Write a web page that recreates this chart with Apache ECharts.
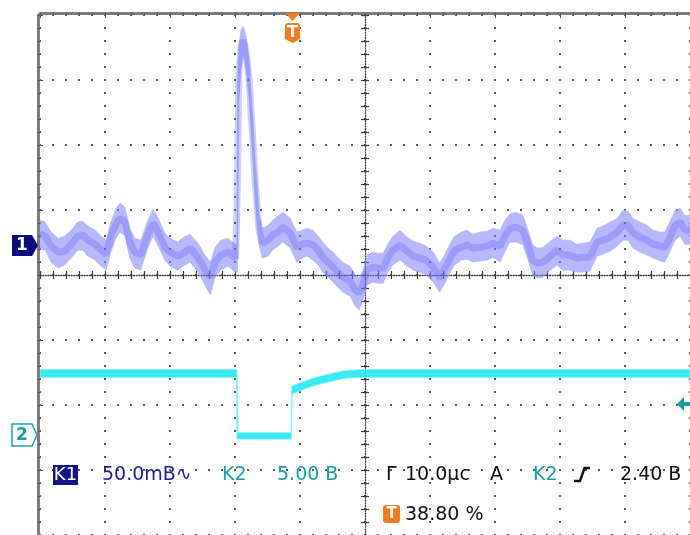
<!DOCTYPE html>
<html><head><meta charset="utf-8">
<script src="https://cdn.jsdelivr.net/npm/echarts@6/dist/echarts.min.js"></script>
<style>html,body{margin:0;padding:0;background:#fff}#c{width:690px;height:535px}</style>
</head><body><div id="c"></div>
<script>
// ---- scope settings ----
const timePerDiv = 10;      // μs / div
const ch1Scale = 50;        // mV / div
const ch2Scale = 5;         // V / div
const trigPct = 38.8;       // trigger position, % of screen
const ch1Pos = 0.49;        // ch1 ground marker, divisions from centre
const ch2Pos = -2.46;       // ch2 ground marker, divisions from centre

// ---- channel 1 (mV), time relative to trigger (μs) ----
const ch1Time = [
 -38.8,-38.0,-37.1,-36.0,-35.0,-34.0,-33.0,-32.2,-31.4,-30.3,
 -29.4,-28.6,-27.9,-27.1,-26.5,-25.7,-25.0,-24.2,-23.3,-22.2,
 -21.4,-20.6,-19.6,-18.8,-17.6,-16.5,-15.7,-14.5,-13.4,-12.6,
 -11.9,-11.0,-9.9,-8.7,-8.5,-8.4,-8.2,-7.9,-7.6,-7.3,
 -7.0,-6.6,-6.3,-6.0,-5.7,-5.4,-5.1,-4.6,-3.7,-3.0,
 -2.2,-1.4,-0.3,0.7,1.5,2.3,3.2,4.0,4.7,5.5,
 6.3,7.0,7.8,8.9,9.7,10.3,10.9,11.5,12.4,13.2,
 14.0,14.7,15.5,16.6,17.5,18.6,19.7,20.6,21.7,22.7,
 23.5,24.3,25.0,26.0,26.9,27.8,28.9,30.0,30.9,32.0,
 32.7,33.5,34.4,35.5,36.3,37.0,37.8,38.6,39.7,40.7,
 41.7,42.7,43.8,44.7,45.8,46.9,47.8,48.9,50.0,50.9,
 51.7,52.4,53.5,54.6,55.5,56.6,57.3,58.1,58.9,59.7,
 60.4,61.2];
const ch1Mid = [
 7.7,5.4,-2.3,-6.9,-6.2,-0.8,5.4,6.2,2.3,-0.8,
 -5.4,-8.5,5.4,14.6,19.2,16.2,0.8,-6.9,-9.2,6.9,
 15.4,8.5,-3.1,-6.9,-10.0,-6.9,-3.8,-10.8,-20.8,-26.2,
 -14.6,-9.2,-6.9,-11.5,-11.5,51.5,131.5,148.4,156.1,152.3,
 143.0,124.6,98.4,75.4,48.4,29.2,10.0,0,2.3,6.2,
 8.5,12.3,7.7,-3.1,-0.8,0,-1.5,-5.4,-10.8,-14.6,
 -18.5,-22.3,-26.2,-29.2,-36.1,-38.4,-32.3,-20.8,-18.5,-19.2,
 -19.2,-11.5,-5.4,-1.5,-5.4,-10.0,-11.5,-13.1,-18.5,-26.9,
 -19.2,-11.5,-5.4,-3.1,-1.5,-3.8,-3.1,-2.3,0,-2.3,
 5.4,11.5,12.3,10.0,-1.5,-13.1,-15.4,-14.6,-10.0,-5.4,
 -9.2,-9.2,-11.5,-10.8,-10.8,0.8,2.3,4.6,8.5,13.8,
 13.8,7.7,4.6,2.3,-0.8,-2.3,-3.1,3.8,13.8,16.2,
 10.0,10.0];
const ch1Hi = [
 17.7,16.2,8.5,3.8,5.4,10.0,16.2,16.9,13.1,10.0,
 5.4,2.3,16.2,26.9,30.8,27.7,11.5,3.8,2.3,17.7,
 26.2,19.2,7.7,3.8,0.8,5.4,6.9,0,-9.2,-14.6,
 -3.8,2.3,3.8,-0.8,-0.8,125.4,152.3,163.8,166.9,163.8,
 156.1,139.2,113.8,90.7,63.8,44.6,21.5,11.5,13.8,17.7,
 20.8,23.8,19.2,8.5,10.0,11.5,10.0,5.4,0.8,-3.8,
 -6.9,-10.8,-14.6,-17.7,-23.8,-26.9,-20.8,-9.2,-6.9,-7.7,
 -7.7,-0.8,5.4,10.0,5.4,1.5,0,-2.3,-6.9,-15.4,
 -8.5,0,5.4,8.5,10.0,6.9,8.5,9.2,11.5,10.0,
 17.7,22.3,23.8,21.5,10.0,-1.5,-3.8,-3.1,1.5,5.4,
 2.3,2.3,-0.8,0,0.8,11.5,13.1,16.2,19.2,25.4,
 24.6,19.2,16.2,13.8,10.0,8.5,8.5,16.2,25.4,26.9,
 21.5,21.5];
const ch1Lo = [
 -3.8,-5.4,-14.6,-19.2,-16.9,-11.5,-5.4,-5.4,-10.0,-13.1,
 -17.7,-20.8,-6.9,3.8,8.5,5.4,-11.5,-19.2,-20.8,-3.8,
 5.4,-2.3,-13.1,-17.7,-20.8,-16.9,-14.6,-22.3,-32.3,-40.0,
 -26.9,-20.8,-17.7,-22.3,-22.3,-22.3,110.0,133.1,144.6,140.7,
 129.2,110.0,83.1,60.0,33.1,13.8,-1.5,-11.5,-10.0,-5.4,
 -2.3,0.8,-3.8,-14.6,-11.5,-10.0,-13.1,-16.9,-22.3,-26.2,
 -30.0,-33.8,-37.7,-40.8,-48.4,-51.5,-43.8,-32.3,-30.0,-30.8,
 -30.8,-22.3,-16.9,-13.1,-16.9,-20.8,-22.3,-24.6,-30.0,-37.7,
 -30.8,-22.3,-16.9,-13.1,-12.3,-14.6,-13.8,-13.1,-10.8,-14.6,
 -6.9,0.8,0.8,-1.5,-13.1,-24.6,-26.9,-26.2,-20.8,-16.9,
 -20.8,-20.8,-22.3,-22.3,-21.5,-10.0,-8.5,-6.2,-2.3,2.3,
 2.3,-3.8,-6.9,-9.2,-11.5,-13.8,-14.6,-6.9,2.3,5.4,
 -0.8,-0.8];

// ---- channel 2 (V) ----
const ch2Time = [-38.8,-8.6,-8.5,-8.3,-0.2,-0.1,0.0,1.2,3.2,6.3,8.1,11.2,61.2];
const ch2Hi   = [5.05,5.05,5.05,0.18,0.18,3.77,3.77,4.0,4.38,4.77,4.95,5.05,5.05];
const ch2Lo   = [4.42,4.42,-0.33,-0.33,-0.33,-0.33,3.15,3.38,3.77,4.15,4.35,4.42,4.42];

// ---- readout texts ----
const readoutRow1 = [
  {text:'50.0mB\u223F', x:102, color:'#1c1c9c'},
  {text:'K2', x:222, color:'#17a2a2'},
  {text:'5.00 B', x:277, color:'#17a2a2'},
  {text:'\u0413', x:386, color:'#111'},
  {text:'10.0\u03BCc', x:405, color:'#111'},
  {text:'A', x:490, color:'#111'},
  {text:'K2', x:533, color:'#17a2a2'},
  {text:'2.40 B', x:620, color:'#111'}
];
const trigPosText = '38.80 %';

// ---- build ----
const span = 10 * timePerDiv;
const tx = t => t + trigPct / 100 * span - span / 2;
const d1 = v => ch1Pos + v / ch1Scale;
const d2 = v => ch2Pos + v / ch2Scale;
const c1mid = ch1Time.map((t, i) => [tx(t), d1(ch1Mid[i])]);

function bandSeries(name, times, hi, lo, conv, fill, stroke, z) {
  return {type:'custom', name, z, silent:true, clip:true, data:[[0, 0]],
    renderItem:(params, api) => {
      const top = times.map((t, i) => api.coord([tx(t), conv(hi[i])]));
      const bot = times.map((t, i) => api.coord([tx(t), conv(lo[i])])).reverse();
      return {type:'polygon', shape:{points:top.concat(bot)},
        style:{fill, stroke, lineWidth:1}};
    }};
}

const font = '"DejaVu Sans", "Noto Sans", sans-serif';
const dark = '#3a3a3a';
const dotLine = {color:'#5a5a5a', width:2, type:[2,11], dashOffset:1};
const centreLine = {color:dark, width:1.3, type:[1,1.6]};

function mainAxis(min, max, interval, pos) {
  return {type:'value', min, max, interval, position:pos,
    axisLine:{show:true, onZero:true, onZeroAxisIndex:0, lineStyle:centreLine},
    axisTick:{show:true, inside:true, length:4, lineStyle:{color:dark, width:1.2}},
    minorTick:{show:true, splitNumber:5, length:4, lineStyle:{color:dark, width:1.2}},
    axisLabel:{show:false},
    splitLine:{show:true, lineStyle:dotLine}};
}
function outTickAxis(min, max, interval, pos) {
  return {type:'value', min, max, interval, position:pos,
    axisLine:{show:false, onZero:true, onZeroAxisIndex:0},
    axisTick:{show:true, inside:false, length:4, lineStyle:{color:dark, width:1.2}},
    minorTick:{show:true, splitNumber:5, length:4, lineStyle:{color:dark, width:1.2}},
    axisLabel:{show:false}, splitLine:{show:false}};
}
function borderAxis(min, max, interval, pos) {
  return {type:'value', min, max, interval, position:pos, offset:2,
    axisLine:{show:true, onZero:false, lineStyle:{color:'#7d7d7d', width:3}},
    axisTick:{show:true, inside:true, length:5, lineStyle:{color:'#555', width:1}},
    minorTick:{show:true, splitNumber:5, length:3, lineStyle:{color:'#555', width:1}},
    axisLabel:{show:false}, splitLine:{show:false}};
}

const graphics = [
  {type:'polygon', z:100, zlevel:1, shape:{points:[[12,235],[32,235],[38,245.5],[32,256],[12,256]]}, style:{fill:'#0b0b80'}},
  {type:'text', z:101, zlevel:1, style:{text:'1', x:22, y:246, fill:'#fff', font:'bold 17px '+font, textAlign:'center', textVerticalAlign:'middle'}},
  {type:'polygon', z:100, zlevel:1, shape:{points:[[12,424],[32,424],[37,435],[32,446],[12,446]]}, style:{fill:'#fff', stroke:'#1aa8a8', lineWidth:1.5}},
  {type:'text', z:101, zlevel:1, style:{text:'2', x:22, y:435.5, fill:'#159f9f', font:'bold 17px '+font, textAlign:'center', textVerticalAlign:'middle'}},
  {type:'polygon', z:100, zlevel:1, shape:{points:[[285,13],[300,13],[292.5,21]]}, style:{fill:'#f47b20'}},
  {type:'polygon', z:100, zlevel:1, shape:{points:[[285,25],[287,23],[298,23],[300,25],[300,39],[292.5,43],[285,39]]}, style:{fill:'#f47b20'}},
  {type:'text', z:101, zlevel:1, style:{text:'T', x:292.5, y:32.5, fill:'#fff', font:'bold 16px '+font, textAlign:'center', textVerticalAlign:'middle'}},
  {type:'polygon', z:100, zlevel:1, shape:{points:[[677,404],[684,397],[684,411]]}, style:{fill:'#15a0a0'}},
  {type:'rect', z:100, zlevel:1, shape:{x:684, y:402, width:6, height:4}, style:{fill:'#15a0a0'}},
  {type:'rect', z:100, zlevel:1, shape:{x:53, y:465, width:25, height:20}, style:{fill:'#13138a'}},
  {type:'text', z:101, zlevel:1, style:{text:'K1', x:65.5, y:475.5, fill:'#fff', font:'18px '+font, textAlign:'center', textVerticalAlign:'middle'}},
  {type:'polyline', z:101, zlevel:1, shape:{points:[[574,481],[580,481],[584.5,468],[590,468]]}, style:{stroke:'#111', lineWidth:2.4, fill:null}},
  {type:'rect', z:100, zlevel:1, shape:{x:383, y:505, width:17, height:18, r:3}, style:{fill:'#f47b20'}},
  {type:'text', z:101, zlevel:1, style:{text:'T', x:391.5, y:514.5, fill:'#fff', font:'bold 15px '+font, textAlign:'center', textVerticalAlign:'middle'}},
  {type:'text', z:101, zlevel:1, style:{text:trigPosText, x:405, y:515, fill:'#111', font:'19px '+font, textAlign:'left', textVerticalAlign:'middle'}}
];
readoutRow1.forEach(r => graphics.push({type:'text', z:101, zlevel:1, style:{text:r.text, x:r.x, y:475.5, fill:r.color, font:'19px '+font, textAlign:'left', textVerticalAlign:'middle'}}));

const chart = echarts.init(document.getElementById('c'), null, {renderer:'canvas'});
chart.setOption({
  animation:false,
  backgroundColor:'#fff',
  grid:{left:40, top:15, right:0, bottom:0, containLabel:false},
  xAxis:[mainAxis(-50,50,10,'bottom'), outTickAxis(-50,50,10,'bottom'), borderAxis(-50,50,10,'top')],
  yAxis:[mainAxis(-4,4,1,'left'), outTickAxis(-4,4,1,'left'), borderAxis(-4,4,1,'left')],
  series:[
    bandSeries('ch2', ch2Time, ch2Hi, ch2Lo, d2, 'rgba(35,232,242,0.9)', 'rgba(150,245,252,0.8)', 3),
    bandSeries('ch1', ch1Time, ch1Hi, ch1Lo, d1, 'rgba(125,125,255,0.55)', 'rgba(175,175,255,0.55)', 4),
    {type:'line', name:'ch1mid', data:c1mid, symbol:'none', z:5, silent:true,
      lineStyle:{width:7, color:'rgba(85,85,240,0.28)'}}
  ],
  graphic:graphics
});
</script>
</body></html>
